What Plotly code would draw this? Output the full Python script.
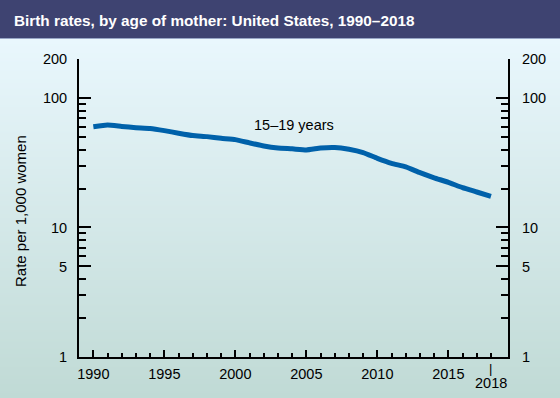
import plotly.graph_objects as go
import math, zlib, struct, base64

# ---- data ----
years = list(range(1990, 2019))
rate_15_19 = [59.9, 61.8, 60.3, 59.0, 58.2, 56.0, 53.5, 51.3, 50.3, 48.8,
              47.7, 45.0, 42.6, 41.1, 40.5, 39.7, 41.1, 41.5, 40.2, 37.9,
              34.2, 31.3, 29.4, 26.5, 24.2, 22.3, 20.3, 18.8, 17.4]
series_label = "15–19 years"
x_tick_vals = [1990, 1995, 2000, 2005, 2010, 2015]
x_tick_text = ["1990", "1995", "2000", "2005", "2010", "2015"]
y_tick_vals = [1, 5, 10, 100, 200]
y_tick_text = ["1", "5", "10", "100", "200"]
y_minor_vals = [2, 3, 4, 6, 7, 8, 9, 20, 30, 40, 50, 60, 70, 80, 90]
title_text = "Birth rates, by age of mother: United States, 1990–2018"
y_title = "Rate per 1,000 women"

W, H = 560, 398
L, R, T, B = 79, 52, 59, 41
pw, ph = W - L - R, H - T - B

def px2paper_x(px):
    return (px - L) / pw

def px2paper_y(py):
    return (H - B - py) / ph

FONT = "Liberation Sans, Arial, Helvetica, sans-serif"
BLUE = "#0061AA"

# ---- background gradient as a tiny PNG ----
def gradient_png(top, bot, n):
    raw = b""
    for i in range(n):
        t = i / (n - 1)
        c = bytes(round(top[k] + (bot[k] - top[k]) * t) for k in range(3))
        raw += b"\x00" + c
    def chunk(tag, data):
        return (struct.pack(">I", len(data)) + tag + data +
                struct.pack(">I", zlib.crc32(tag + data) & 0xffffffff))
    png = b"\x89PNG\r\n\x1a\n"
    png += chunk(b"IHDR", struct.pack(">IIBBBBB", 1, n, 8, 2, 0, 0, 0))
    png += chunk(b"IDAT", zlib.compress(raw))
    png += chunk(b"IEND", b"")
    return "data:image/png;base64," + base64.b64encode(png).decode()

grad_src = gradient_png((233, 247, 253), (192, 218, 213), H - 39)

fig = go.Figure()
fig.add_trace(go.Scatter(x=years, y=rate_15_19, mode="lines",
                         line=dict(color=BLUE, width=5, shape="spline", smoothing=0.4),
                         hoverinfo="skip", showlegend=False))
# invisible trace to carry right axis
fig.add_trace(go.Scatter(x=years, y=rate_15_19, mode="lines", yaxis="y2",
                         line=dict(color="rgba(0,0,0,0)", width=0),
                         hoverinfo="skip", showlegend=False))

shapes = []
# title bar
shapes.append(dict(type="rect", xref="paper", yref="paper",
                   x0=px2paper_x(0), x1=px2paper_x(W),
                   y0=px2paper_y(38), y1=px2paper_y(0),
                   fillcolor="#3E4371", line=dict(width=0), layer="below"))
shapes.append(dict(type="rect", xref="paper", yref="paper",
                   x0=px2paper_x(0), x1=px2paper_x(W),
                   y0=px2paper_y(39), y1=px2paper_y(38),
                   fillcolor="#97A6C6", line=dict(width=0), layer="below"))

images = [dict(source=grad_src, xref="paper", yref="paper",
               x=px2paper_x(0), y=px2paper_y(39),
               sizex=W / pw, sizey=(H - 39) / ph,
               xanchor="left", yanchor="top", sizing="stretch", layer="below")]

annotations = [
    dict(text="<b>" + title_text + "</b>", xref="paper", yref="paper",
         x=px2paper_x(12), y=px2paper_y(20), xanchor="left", yanchor="middle",
         showarrow=False,
         font=dict(family="Liberation Sans, Arial, sans-serif", size=15.3, color="white")),
    dict(text=series_label, x=2004.1, y=math.log10(62.4), xref="x", yref="y",
         showarrow=False, xanchor="center", yanchor="middle",
         font=dict(family=FONT, size=14.5, color="black")),
    dict(text="|", x=2018, y=px2paper_y(368), xref="x", yref="paper",
         showarrow=False, xanchor="center", yanchor="middle",
         font=dict(family=FONT, size=13, color="black")),
    dict(text="2018", x=2018, y=px2paper_y(383), xref="x", yref="paper",
         showarrow=False, xanchor="center", yanchor="middle",
         font=dict(family=FONT, size=14.5, color="black")),
    dict(text=y_title, xref="paper", yref="paper", x=px2paper_x(21), y=0.49,
         textangle=-90, showarrow=False, xanchor="center", yanchor="middle",
         font=dict(family=FONT, size=15, color="black")),
]

def yaxis_cfg(side, standoff):
    return dict(type="log", range=[0, math.log10(200)], side=side,
                tickmode="array", tickvals=y_tick_vals, ticktext=y_tick_text,
                ticks="inside", ticklen=12, tickwidth=2, tickcolor="black",
                showline=True, linecolor="black", linewidth=2,
                showgrid=False, zeroline=False, fixedrange=True,
                ticklabelstandoff=standoff, automargin=False,
                tickfont=dict(family=FONT, size=14.5, color="black"),
                minor=dict(tickmode="array", tickvals=y_minor_vals, ticks="inside",
                           ticklen=7, tickwidth=2, tickcolor="black", showgrid=False))

y2 = yaxis_cfg("right", 9)
y2["overlaying"] = "y"

fig.update_layout(
    width=W, height=H,
    margin=dict(l=L, r=R, t=T, b=B, pad=0),
    paper_bgcolor="#E9F7FD", plot_bgcolor="rgba(0,0,0,0)",
    showlegend=False,
    xaxis=dict(range=[1988.99, 2019.2], tickmode="array",
               tickvals=x_tick_vals, ticktext=x_tick_text,
               ticks="inside", ticklen=7, tickwidth=2, tickcolor="black",
               showline=True, linecolor="black", linewidth=2,
               showgrid=False, zeroline=False, fixedrange=True,
               ticklabelstandoff=3, automargin=False,
               tickfont=dict(family=FONT, size=14.5, color="black"),
               minor=dict(tickmode="array", tickvals=[y for y in years if y % 5 != 0],
                          ticks="inside", ticklen=4, tickwidth=2, tickcolor="black",
                          showgrid=False)),
    yaxis=yaxis_cfg("left", 7),
    yaxis2=y2,
    shapes=shapes,
    images=images,
    annotations=annotations,
)

fig.write_html("out.html", config={"displayModeBar": False},
               post_script="document.body.style.margin='0px';")
